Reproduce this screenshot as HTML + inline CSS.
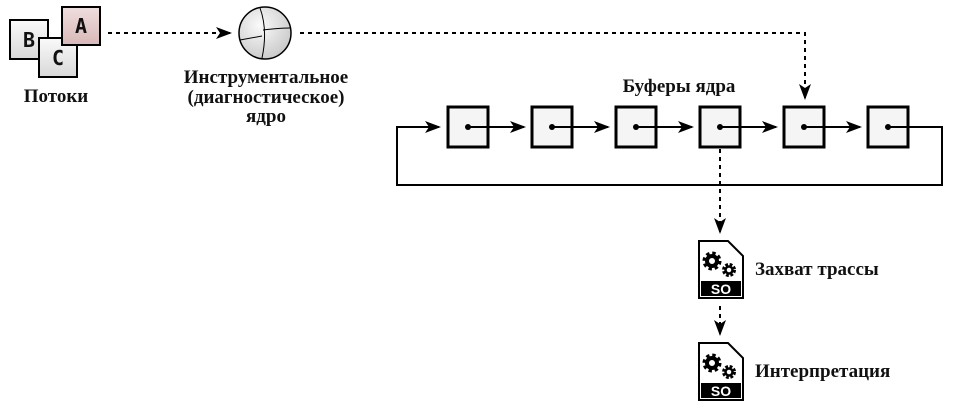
<!DOCTYPE html>
<html><head><meta charset="utf-8"><style>
body{margin:0;background:#fff;width:954px;height:413px;overflow:hidden}
text{font-family:"Liberation Serif",serif;font-weight:bold;font-size:19px;fill:#111}
</style></head><body>
<svg width="954" height="413" xmlns="http://www.w3.org/2000/svg">
<defs>
<linearGradient id="g" x1="0" y1="0" x2="0" y2="1"><stop offset="0" stop-color="#fafafa"/><stop offset="1" stop-color="#d8d8d8"/></linearGradient>
<linearGradient id="ga" x1="0" y1="0" x2="0" y2="1"><stop offset="0" stop-color="#f0dede"/><stop offset="1" stop-color="#d8b8b8"/></linearGradient>
<radialGradient id="gl" cx="0.4" cy="0.35" r="0.7"><stop offset="0" stop-color="#fafafa"/><stop offset="1" stop-color="#c8c8c8"/></radialGradient>
<marker id="ar" markerWidth="16" markerHeight="12" refX="14" refY="6" orient="auto" markerUnits="userSpaceOnUse"><path d="M0,0 L16,6 L0,12 L4,6 Z" fill="#000"/></marker>
<g id="file">
<path d="M1,1 H30 L45,16 V58 H1 Z" fill="#fff" stroke="#000" stroke-width="2"/>
<rect x="3" y="41" width="40" height="15" fill="#000"/>
<text x="23" y="54" text-anchor="middle" style="font-family:'Liberation Sans',sans-serif;font-size:14px;fill:#fff">SO</text>
<circle cx="14" cy="21" r="7" fill="none" stroke="#000" stroke-width="5" stroke-dasharray="3 2.5"/>
<circle cx="14" cy="21" r="5" fill="none" stroke="#000" stroke-width="4"/>
<circle cx="31" cy="30" r="5" fill="none" stroke="#000" stroke-width="4" stroke-dasharray="2.5 1.5"/>
<circle cx="31" cy="30" r="3.5" fill="none" stroke="#000" stroke-width="2.5"/>
</g>
</defs>
<rect x="10" y="20" width="38" height="39" fill="url(#g)" stroke="#000" stroke-width="2"/>
<text x="29" y="47" text-anchor="middle" style="font-family:'DejaVu Sans Mono',monospace;font-size:20px">B</text>
<rect x="39" y="38" width="38" height="39" fill="url(#g)" stroke="#000" stroke-width="2"/>
<text x="58" y="65" text-anchor="middle" style="font-family:'DejaVu Sans Mono',monospace;font-size:20px">C</text>
<rect x="62" y="7" width="38" height="38" fill="url(#ga)" stroke="#000" stroke-width="2"/>
<text x="81" y="33" text-anchor="middle" style="font-family:'DejaVu Sans Mono',monospace;font-size:20px">A</text>
<text x="56" y="102" text-anchor="middle">Потоки</text>
<line x1="108" y1="33" x2="230" y2="33" stroke="#000" stroke-width="2" stroke-dasharray="4 4" marker-end="url(#ar)"/>
<circle cx="265" cy="33" r="26" fill="url(#gl)" stroke="#000" stroke-width="1.5"/>
<path d="M260,8 Q268,30 262,58 M240,40 Q262,36 262,36 M263,30 Q280,28 290,28" fill="none" stroke="#000" stroke-width="1"/>
<text x="266" y="83" text-anchor="middle">Инструментальное</text>
<text x="266" y="103" text-anchor="middle">(диагностическое)</text>
<text x="266" y="122" text-anchor="middle">ядро</text>
<path d="M300,33 H805 V98" fill="none" stroke="#000" stroke-width="2" stroke-dasharray="4 4" marker-end="url(#ar)"/>
<text x="679" y="92" text-anchor="middle">Буферы ядра</text>
<path d="M909,127 H942 V185 H397 V127 H439" fill="none" stroke="#000" stroke-width="2" marker-end="url(#ar)"/>
<g stroke="#000" stroke-width="3" fill="#f5f5f5">
<rect x="448" y="107" width="40" height="40"/><rect x="532" y="107" width="40" height="40"/><rect x="616" y="107" width="40" height="40"/><rect x="700" y="107" width="40" height="40"/><rect x="784" y="107" width="40" height="40"/><rect x="868" y="107" width="40" height="40"/>
</g>
<g stroke="#000" stroke-width="2" marker-end="url(#ar)">
<line x1="468" y1="127" x2="524" y2="127"/><line x1="552" y1="127" x2="608" y2="127"/><line x1="636" y1="127" x2="692" y2="127"/><line x1="720" y1="127" x2="776" y2="127"/><line x1="804" y1="127" x2="860" y2="127"/>
</g>
<line x1="888" y1="127" x2="909" y2="127" stroke="#000" stroke-width="2"/>
<g fill="#000"><circle cx="468" cy="127" r="3"/><circle cx="552" cy="127" r="3"/><circle cx="636" cy="127" r="3"/><circle cx="720" cy="127" r="3"/><circle cx="804" cy="127" r="3"/><circle cx="888" cy="127" r="3"/></g>
<line x1="720" y1="149" x2="720" y2="232" stroke="#000" stroke-width="2" stroke-dasharray="4 4" marker-end="url(#ar)"/>
<use href="#file" x="698" y="240"/>
<text x="755" y="275">Захват трассы</text>
<line x1="720" y1="306" x2="720" y2="334" stroke="#000" stroke-width="2" stroke-dasharray="4 4" marker-end="url(#ar)"/>
<use href="#file" x="698" y="342"/>
<text x="755" y="377">Интерпретация</text>
</svg>
</body></html>
